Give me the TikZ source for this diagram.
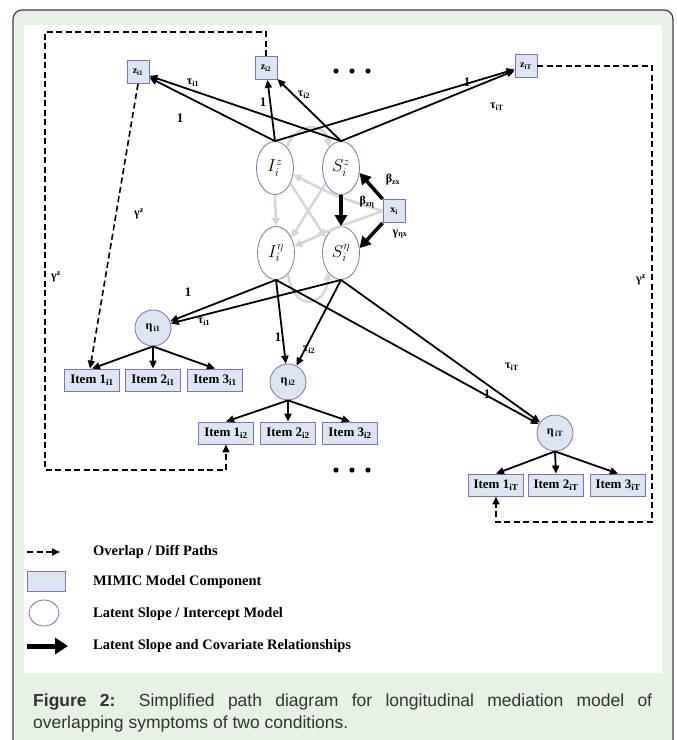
\documentclass[tikz,border=0pt]{standalone}
\usepackage{fontspec}
\setmainfont{Liberation Serif}
\newfontfamily\capfont{Liberation Sans}
\usetikzlibrary{arrows.meta,shapes.geometric}

\definecolor{panel}{HTML}{E8F1E5}
\definecolor{boxblue}{HTML}{DCE6F2}
\definecolor{edgepurple}{HTML}{8B6BB1}
\definecolor{fadegray}{HTML}{D6D6D6}
\definecolor{captext}{HTML}{333333}

\tikzset{
  mimic/.style={draw=edgepurple, fill=boxblue, line width=0.8pt, inner sep=1pt},
  zbox/.style={mimic, minimum width=22pt, minimum height=23pt, font=\bfseries\fontsize{10}{10}\selectfont},
  item/.style={mimic, minimum width=55pt, minimum height=22pt, font=\bfseries\fontsize{13}{13}\selectfont},
  latent/.style={ellipse, draw=edgepurple, fill=white, line width=0.8pt, minimum width=37pt, minimum height=53pt, inner sep=0pt, font=\fontsize{17}{17}\selectfont},
  etanode/.style={circle, draw=edgepurple, fill=boxblue, line width=0.8pt, minimum size=36pt, inner sep=0pt, font=\bfseries\fontsize{12}{12}\selectfont},
  load/.style={-{Triangle[length=8pt,width=7pt]}, line width=1.8pt},
  heavy/.style={-{Triangle[length=11pt,width=12pt]}, line width=3.5pt},
  faint/.style={-{Triangle[length=8pt,width=8pt]}, line width=2.5pt, fadegray},
  overlap/.style={-{Triangle[length=8pt,width=7pt]}, line width=1.6pt, dash pattern=on 6pt off 3.5pt},
  lbl/.style={font=\bfseries\fontsize{12}{12}\selectfont, inner sep=1pt},
  one/.style={font=\bfseries\fontsize{13}{13}\selectfont, inner sep=1pt},
  key/.style={anchor=west, inner sep=0pt, font=\bfseries\fontsize{14.5}{14.5}\selectfont},
}

\begin{document}
\begin{tikzpicture}[x=1pt,y=-1pt]
   \useasboundingbox (0,0) rectangle (677,740);
   \draw[fill=panel, draw=black!75, line width=1.2pt, rounded corners=9pt] (13,10) rectangle (673,770);
   \fill[white] (24,25) rectangle (662,673);

   % observed z scores
   \node[zbox] (z1) at (138,72) {z\textsubscript{i1}};
   \node[zbox] (z2) at (266,68) {z\textsubscript{i2}};
   \node[zbox] (zT) at (526,66) {z\textsubscript{iT}};
   \foreach \d in {336,352,368} \fill (\d,71) circle(2.6);

   % growth factors and covariate
   \node[latent] (Iz) at (275,168) {$I_i^{z}$};
   \node[latent] (Sz) at (341,168) {$S_i^{z}$};
   \node[latent] (Ie) at (276,253) {$I_i^{\eta}$};
   \node[latent] (Se) at (341,253) {$S_i^{\eta}$};
   \node[zbox] (x) at (394,211) {x\textsubscript{i}};

   % MIMIC factors with their items
   \node[etanode] (e1) at (153,328) {η\textsubscript{\,i1}};
   \node[etanode] (e2) at (288,382) {η\textsubscript{\,i2}};
   \node[etanode] (eT) at (555,433) {η\textsubscript{\,iT}};
   \foreach \k/\x in {1/92,2/153,3/215} \node[item] (a\k) at (\x,380) {Item \k\textsubscript{i1}};
   \foreach \k/\x in {1/226,2/288,3/350} \node[item] (b\k) at (\x,433) {Item \k\textsubscript{i2}};
   \foreach \k/\x in {1/496,2/556,3/618} \node[item] (c\k) at (\x,485) {Item \k\textsubscript{iT}};
   \foreach \d in {336,352,368} \fill (\d,470) circle(2.6);

   % cross-lagged paths in the background
   \draw[faint] (Iz.south) -- (Ie.north);
   \draw[faint] (Iz.-45) -- (Se.135);
   \draw[faint] (Sz.-135) -- (Ie.45);
   \draw[faint] (x.west) .. controls (335,196) .. (Iz.-20);
   \draw[faint] (x.west) .. controls (335,228) .. (Ie.20);
   \draw[faint] (Iz.60) .. controls (295,122) and (325,122) .. (Sz.120);
   \draw[faint] (Ie.-60) .. controls (295,318) and (328,302) .. (Se.-125);

   \foreach \t in {z1,z2,zT} {
      \draw[load] (Iz.north) -- (\t);
      \draw[load] (Sz.north) -- (\t);
   }
   \draw (180,118) node[one]{1};
   \draw (193,83) node[lbl]{τ\textsubscript{i1}};
   \draw (263,102) node[one]{1};
   \draw (304,95) node[lbl]{τ\textsubscript{i2}};
   \draw (467,82) node[one]{1};
   \draw (497,107) node[lbl]{τ\textsubscript{iT}};

   \draw[heavy] (Sz.south) -- (Se.north);
   \draw[heavy] (x.north west) -- (Sz.-15);
   \draw[heavy] (x.south west) -- (Se.15);
   \draw (367,202) node[lbl]{β\textsubscript{zη}};
   \draw (393,180) node[lbl]{β\textsubscript{zx}};
   \draw (400,234) node[lbl]{γ\textsubscript{ηx}};

   \foreach \t in {e1,e2,eT} {
      \draw[load] (Ie.south) -- (\t);
      \draw[load] (Se.south) -- (\t);
   }
   \draw (188,292) node[one]{1};
   \draw (204,322) node[lbl]{τ\textsubscript{i1}};
   \draw (278,337) node[one]{1};
   \draw (309,350) node[lbl]{τ\textsubscript{i2}};
   \draw (512,367) node[lbl]{τ\textsubscript{iT}};
   \draw (487,394) node[one]{1};

   \foreach \k in {1,2,3} {
      \draw[load] (e1.south) -- (a\k.north);
      \draw[load] (e2.south) -- (b\k.north);
      \draw[load] (eT.south) -- (c\k.north);
   }

   % overlap paths
   \draw[overlap] (z1.south) -- ([xshift=-2pt]a1.north);
   \draw[overlap] (z2.north) |- (45,32) -- (45,470) -| (b1.south);
   \draw[overlap] (zT.east) -| (652,522) -| (c1.south);
   \draw (139,214) node[lbl]{γ\textsuperscript{z}};
   \draw (56,277) node[lbl]{γ\textsuperscript{z}};
   \draw (641,280) node[lbl]{γ\textsuperscript{z}};

   % legend
   \draw[overlap] (27,552) -- (60,552);
   \fill[boxblue, draw=edgepurple, line width=0.8pt] (27,571) rectangle (65,591);
   \draw[edgepurple, line width=0.8pt] (44,613) ellipse (15 and 13);
   \draw[-{Triangle[length=13pt,width=16pt]}, line width=5pt] (27,646) -- (68,646);
   \draw (93,552) node[key]{Overlap / Diff Paths};
   \draw (93,582) node[key]{MIMIC Model Component};
   \draw (93,614) node[key]{Latent Slope / Intercept Model};
   \draw (93,646) node[key]{Latent Slope and Covariate Relationships};

   \node[anchor=north west, inner sep=0pt, text=captext, align=left,
         font=\capfont\fontsize{17.5}{22}\selectfont] (cap) at (33,694)
      {\makebox[619pt][s]{\textbf{Figure 2:} Simplified path diagram for longitudinal mediation model of}\\
       overlapping symptoms of two conditions.};
\end{tikzpicture}
\end{document}
